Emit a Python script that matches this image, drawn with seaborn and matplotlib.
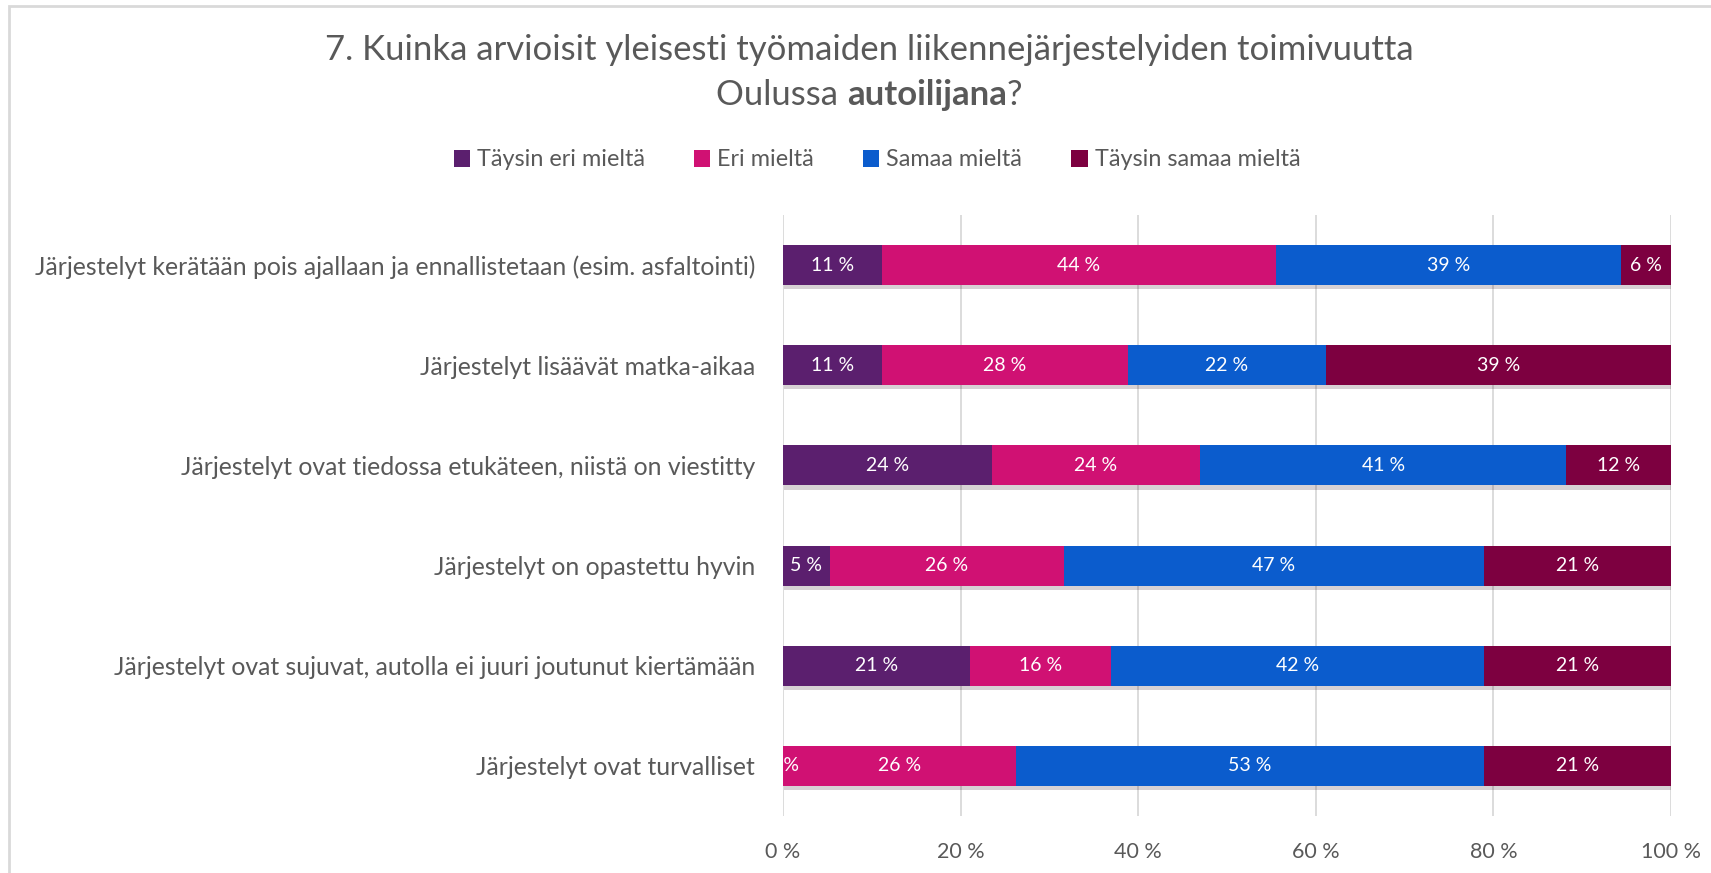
import numpy as np
import pandas as pd
import seaborn as sns
import matplotlib
matplotlib.use("Agg")
import matplotlib.pyplot as plt
import matplotlib.patheffects as pe
from matplotlib.patches import Rectangle, Patch

# --- data (percent of answers per statement) ---
kysymykset = [
    "Järjestelyt kerätään pois ajallaan ja ennallistetaan (esim. asfaltointi)",
    "Järjestelyt lisäävät matka-aikaa",
    "Järjestelyt ovat tiedossa etukäteen, niistä on viestitty",
    "Järjestelyt on opastettu hyvin",
    "Järjestelyt ovat sujuvat, autolla ei juuri joutunut kiertämään",
    "Järjestelyt ovat turvalliset",
]
sarjat = ["Täysin eri mieltä", "Eri mieltä", "Samaa mieltä", "Täysin samaa mieltä"]
taysin_eri = [11.1, 11.1, 23.5, 5.3, 21.1, 0.0]
eri = [44.4, 27.8, 23.5, 26.3, 15.8, 26.3]
samaa = [38.9, 22.2, 41.2, 47.4, 42.1, 52.6]
taysin_samaa = [5.6, 38.9, 11.8, 21.0, 21.0, 21.1]
x_ticks = [0, 20, 40, 60, 80, 100]

colors = ["#5B1F6E", "#D01173", "#0B5CCD", "#7D0040"]
text_grey = "#595959"

sns.set_theme(style="white")
plt.rcParams["font.family"] = ["Lato", "DejaVu Sans"]

df = pd.DataFrame({"kysymys": kysymykset, sarjat[0]: taysin_eri, sarjat[1]: eri,
                   sarjat[2]: samaa, sarjat[3]: taysin_samaa})
cum = df[sarjat].cumsum(axis=1)

fig = plt.figure(figsize=(17.11, 8.73), dpi=100)
ax = fig.add_axes([0.4576, 0.0653, 0.519, 0.6884])

# chart area border (Excel style)
fig.patches.append(Rectangle((9 / 1711, -0.1), 1.2, 1.1 - 6 / 873, transform=fig.transFigure,
                             fill=False, edgecolor="#D9D9D9", lw=2.0))

# stacked bars: draw cumulative totals back to front
for k in range(len(sarjat) - 1, -1, -1):
    d = pd.DataFrame({"kysymys": kysymykset, "x": cum[sarjat[k]]})
    sns.barplot(data=d, x="x", y="kysymys", order=kysymykset, color=colors[k], saturation=1,
                width=0.4, orient="h", linewidth=0, ax=ax)
    if k == len(sarjat) - 1:
        for p in ax.patches:
            p.set_path_effects([pe.SimplePatchShadow(offset=(1, -3), alpha=0.18), pe.Normal()])

# data labels (white, so a 0 % label on white background mostly disappears as in Excel)
for k, s in enumerate(sarjat):
    vals = df[s].values
    centers = cum[s].values - vals / 2
    for i, (c, v) in enumerate(zip(centers, vals)):
        ax.text(c, i, f"{round(v):d} %", ha="center", va="center", color="white",
                fontsize=14, clip_on=False)

ax.set_xlim(0, 100)
ax.set_ylim(len(kysymykset) - 0.5, -0.5)
ax.set_xticks(x_ticks)
ax.set_xticklabels([f"{t} %" for t in x_ticks])
ax.xaxis.grid(True, color="#D9D9D9", lw=1.3)
ax.set_axisbelow(True)
for sp in ax.spines.values():
    sp.set_visible(False)
ax.tick_params(axis="both", length=0, colors=text_grey)
ax.tick_params(axis="x", pad=19, labelsize=15.5)
ax.tick_params(axis="y", pad=20, labelsize=17.8)
ax.set_xlabel("")
ax.set_ylabel("")

# legend
handles = [Patch(facecolor=c, edgecolor="none") for c in colors]
fig.legend(handles, sarjat, loc="center", bbox_to_anchor=(0.5125, 1 - 160 / 873), ncol=4, frameon=False,
           fontsize=16.8, handlelength=0.7, handleheight=0.7, handletextpad=0.3, columnspacing=2.1,
           labelcolor=text_grey)

# title (two lines, second with bold word)
fig.text(0.508, 1 - 50 / 873, "7. Kuinka arvioisit yleisesti työmaiden liikennejärjestelyiden toimivuutta",
         ha="center", va="center", fontsize=25, color=text_grey)
y2 = 1 - 95 / 873
parts = [("Oulussa ", "normal"), ("autoilijana", "bold"), ("?", "normal")]
fig.canvas.draw()
r = fig.canvas.get_renderer()
texts = []
for s, w in parts:
    texts.append(fig.text(0, y2, s, ha="left", va="center", fontsize=25, color=text_grey, fontweight=w))
widths = [t.get_window_extent(r).width for t in texts]
x0 = 0.508 * fig.bbox.width - sum(widths) / 2
for t, w in zip(texts, widths):
    t.set_x(x0 / fig.bbox.width)
    x0 += w

fig.savefig("out.png", dpi=100)
